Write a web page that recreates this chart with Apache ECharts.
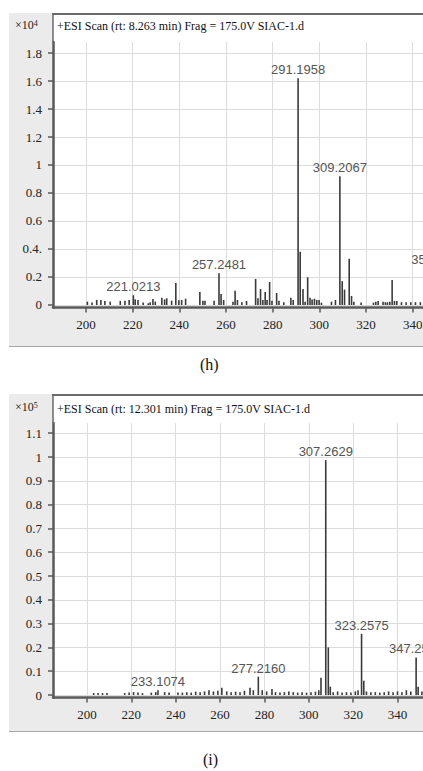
<!DOCTYPE html>
<html><head><meta charset="utf-8">
<script src="https://cdn.jsdelivr.net/npm/echarts@6/dist/echarts.min.js"></script>
<style>html,body{margin:0;padding:0;overflow:hidden;background:#fff;width:423px;height:771px}
#c{width:480px;height:771px}</style></head>
<body><div id="c"></div>
<script>
// ---- panel (h): m/z and intensity (x10^4) ----
const mzH = [200.6,202.6,204.6,206.4,208.1,210.4,214.7,216.7,218.5,220.3,
             221.1,222.3,224.5,226.7,227.5,228.7,229.7,232.5,233.7,234.6,
             236.7,238.5,239.8,241.0,242.7,248.8,250.1,251.0,254.9,257.0,
             257.9,259.0,263.0,263.9,264.9,266.8,268.8,272.7,273.7,274.8,
             275.8,276.8,277.6,278.7,279.7,281.7,282.7,284.8,287.8,288.8,
             290.9,291.8,293.0,293.9,295.0,296.0,296.9,297.9,298.9,299.9,
             300.9,305.2,306.9,308.8,309.8,310.8,312.8,313.8,314.8,317.9,
             323.2,324.2,325.2,327.3,328.3,329.2,330.2,331.2,332.2,333.2,
             335.2,337.2,339.2,341.2,343.3,346.3,348.3,351.0,352.0,355.0];
const intH = [0.024,0.017,0.036,0.036,0.029,0.024,0.029,0.031,0.036,0.070,
              0.040,0.036,0.017,0.012,0.020,0.043,0.024,0.052,0.040,0.048,
              0.031,0.157,0.033,0.036,0.045,0.093,0.031,0.031,0.031,0.226,
              0.079,0.036,0.024,0.102,0.036,0.020,0.029,0.186,0.048,0.114,
              0.036,0.093,0.036,0.164,0.031,0.086,0.031,0.020,0.052,0.036,
              1.620,0.380,0.114,0.024,0.198,0.052,0.040,0.045,0.036,0.036,
              0.017,0.024,0.036,0.920,0.170,0.110,0.330,0.064,0.024,0.017,
              0.017,0.024,0.029,0.024,0.020,0.020,0.024,0.179,0.029,0.029,
              0.020,0.020,0.020,0.020,0.020,0.020,0.020,0.264,0.050,0.020];
const peakMzH = [220.3,257.0,290.9,308.8,351.0];
const peakTextH = ['221.0213','257.2481','291.1958','309.2067','351.2172'];
const yTicksH = [0,0.2,0.4,0.6,0.8,1,1.2,1.4,1.6,1.8];
const yTextH = ['0','0.2','0.4.','0.6','0.8','1','1.2','1.4','1.6','1.8'];

// ---- panel (i): m/z and intensity (x10^5) ----
const mzI = [203,205,207,209,217,219,221,223,225,229,
             231,232.0,235,237,241,243,245,247,249,251,
             253,255,257,259,260.8,263,265,267,269,271,
             273.5,275,277.25,279,281,283.4,285,287,289,291,
             293,295,297,299,301,303,304.5,305.5,307.65,308.8,
             309.7,311,313,315,317,319,321,322.2,323.8,324.8,
             326,328,330,332,334,336,338,340,342,344,
             346,348.4,349.3,351];
const intI = [0.008,0.008,0.008,0.008,0.008,0.010,0.012,0.010,0.008,0.010,
              0.012,0.020,0.012,0.010,0.010,0.010,0.012,0.010,0.014,0.012,
              0.015,0.020,0.015,0.018,0.030,0.015,0.012,0.014,0.012,0.018,
              0.030,0.020,0.077,0.020,0.015,0.025,0.012,0.010,0.012,0.015,
              0.012,0.010,0.012,0.010,0.012,0.014,0.020,0.073,0.987,0.200,
              0.035,0.012,0.015,0.010,0.012,0.010,0.015,0.020,0.257,0.060,
              0.015,0.012,0.012,0.010,0.012,0.015,0.012,0.015,0.012,0.020,
              0.015,0.158,0.035,0.015];
const peakMzI = [232.0,277.25,307.65,323.8,348.4];
const peakTextI = ['233.1074','277.2160','307.2629','323.2575','347.2573'];
const yTicksI = [0,0.1,0.2,0.3,0.4,0.5,0.6,0.7,0.8,0.9,1,1.1];
const yTextI = ['0','0.1','0.2','0.3','0.4','0.5','0.6','0.7','0.8','0.9','1','1.1'];

const xTicks = [200,220,240,260,280,300,320,340];
const titleH = '+ESI Scan (rt: 8.263 min) Frag = 175.0V SIAC-1.d';
const titleI = '+ESI Scan (rt: 12.301 min) Frag = 175.0V SIAC-1.d';

const SERIF = '"Liberation Serif", "DejaVu Serif", serif';
const SANS = '"Liberation Sans", Arial, sans-serif';

function buildData(mz, inten, pMz, pTxt) {
  return mz.map((m, i) => {
    const k = pMz.indexOf(m);
    const d = { value: [m, inten[i]] };
    if (k >= 0) d.label = { show: true, formatter: pTxt[k] };
    return d;
  });
}
function xAxisCfg(gi, min, max) {
  return {
    type: 'value', gridIndex: gi, min: min, max: max,
    axisLine: { show: true, onZero: false, lineStyle: { color: '#5a5a5a', width: 2.5 } },
    axisTick: { show: true, customValues: xTicks, length: 5, lineStyle: { color: '#5a5a5a', width: 1.5 } },
    axisLabel: { customValues: xTicks, margin: 10, fontFamily: SERIF, fontSize: 13, color: '#222' },
    splitLine: { show: true, lineStyle: { color: '#dcdcdc', width: 1 } }
  };
}
function yAxisCfg(gi, min, max, ticks, txt) {
  return {
    type: 'value', gridIndex: gi, min: min, max: max,
    axisLine: { show: true, onZero: false, lineStyle: { color: '#5a5a5a', width: 2.5 } },
    axisTick: { show: true, customValues: ticks, length: 5, lineStyle: { color: '#5a5a5a', width: 1.5 } },
    axisLabel: { customValues: ticks, margin: 11, fontFamily: SERIF, fontSize: 13, color: '#222',
      formatter: v => { const k = ticks.findIndex(t => Math.abs(t - v) < 1e-6); return k >= 0 ? txt[k] : ''; } },
    splitLine: { show: true, lineStyle: { color: '#dcdcdc', width: 1 } }
  };
}
function barSeries(idx, data) {
  return {
    type: 'bar', xAxisIndex: idx, yAxisIndex: idx, data: data, barWidth: 1.6,
    itemStyle: { color: '#3a3a3a' }, animation: false, silent: true,
    label: { show: false, position: 'top', distance: 2, color: '#555', fontFamily: SANS, fontSize: 13 }
  };
}
function panelGraphics(top, bottomGrey, axisY, gridTop) {
  return [
    { type: 'rect', z: -10, shape: { x: 9, y: top - 1, width: 480, height: bottomGrey - top + 1 }, style: { fill: '#ebebeb' } },
    { type: 'line', z: -9, shape: { x1: 9, y1: bottomGrey, x2: 480, y2: bottomGrey }, style: { stroke: '#a8a8a8', lineWidth: 1 } },
    { type: 'rect', z: -9, shape: { x: 53, y: top, width: 430, height: axisY - top }, style: { fill: '#fff' } },
    { type: 'line', z: 5, shape: { x1: 52, y1: top, x2: 480, y2: top }, style: { stroke: '#6a6a6a', lineWidth: 2 } },
    { type: 'line', z: 5, shape: { x1: 53, y1: top, x2: 53, y2: gridTop }, style: { stroke: '#6a6a6a', lineWidth: 1.5 } }
  ];
}
const expRich = {
  a: { fontFamily: SERIF, fontSize: 12, fontWeight: 'normal', color: '#222', verticalAlign: 'bottom' },
  b: { fontFamily: SERIF, fontSize: 8, fontWeight: 'normal', color: '#222', verticalAlign: 'top' }
};

const chart = echarts.init(document.getElementById('c'), null, { renderer: 'svg' });
chart.setOption({
  animation: false,
  backgroundColor: '#fff',
  title: [
    { text: titleH, left: 57, top: 20, textStyle: { fontFamily: SERIF, fontSize: 12, fontWeight: 'normal', color: '#111' }, padding: 0 },
    { text: titleI, left: 57, top: 403, textStyle: { fontFamily: SERIF, fontSize: 12, fontWeight: 'normal', color: '#111' }, padding: 0 },
    { text: '{a|×10}{b|4}', left: 15, top: 19, padding: 0, textStyle: { fontWeight: 'normal', rich: expRich } },
    { text: '{a|×10}{b|5}', left: 15, top: 401, padding: 0, textStyle: { fontWeight: 'normal', rich: expRich } },
    { text: '(h)', left: 200, top: 356, padding: 0, textStyle: { fontFamily: SERIF, fontSize: 16, fontWeight: 'normal', color: '#111' } },
    { text: '(i)', left: 203, top: 751, padding: 0, textStyle: { fontFamily: SERIF, fontSize: 16, fontWeight: 'normal', color: '#111' } }
  ],
  graphic: { elements: panelGraphics(14, 346.5, 307.5, 42).concat(panelGraphics(395, 731.5, 697.5, 423)) },
  grid: [
    { left: 53, top: 42, width: 427, height: 265.5, show: false },
    { left: 53, top: 423, width: 427, height: 274.5, show: false }
  ],
  xAxis: [ xAxisCfg(0, 185.87, 368.85), xAxisCfg(1, 184.67, 377.2) ],
  yAxis: [ yAxisCfg(0, -0.0179, 1.8786, yTicksH, yTextH), yAxisCfg(1, -0.0105, 1.1429, yTicksI, yTextI) ],
  series: [
    barSeries(0, buildData(mzH, intH, peakMzH, peakTextH)),
    barSeries(1, buildData(mzI, intI, peakMzI, peakTextI))
  ]
});
</script></body></html>
